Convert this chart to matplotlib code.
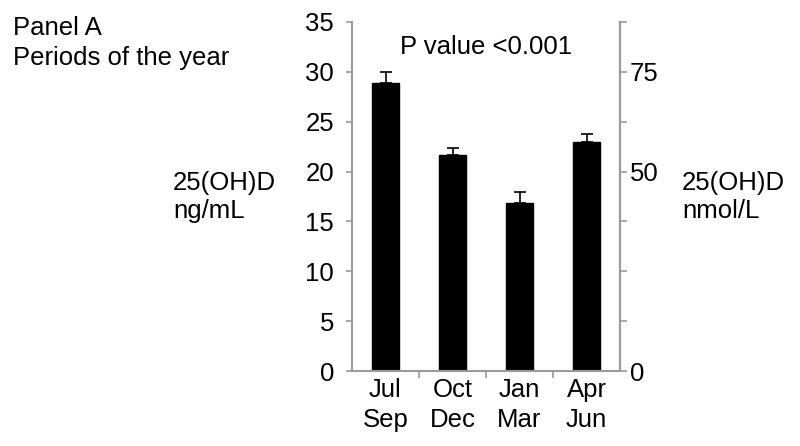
import matplotlib
matplotlib.use("Agg")
import matplotlib.pyplot as plt
from matplotlib.ticker import FixedLocator, NullFormatter

plt.rcParams['font.family'] = ['Liberation Sans', 'DejaVu Sans']

categories = ["Jul\nSep", "Oct\nDec", "Jan\nMar", "Apr\nJun"]
means = [28.9, 21.7, 16.85, 23.0]
errors = [1.1, 0.7, 1.1, 0.8]
left_ticks = [0, 5, 10, 15, 20, 25, 30, 35]
right_ticks = [0, 12.5, 25, 37.5, 50, 62.5, 75, 87.5]
right_labels = ["0", "", "", "", "50", "", "75", ""]
conv = 2.5

gray = "#9a9a9a"
fs = 18.5

fig = plt.figure(figsize=(8, 4.46), dpi=100)
ax = fig.add_axes([0.44, 0.168, 0.335, 0.783])
x = list(range(len(categories)))
ax.bar(x, means, width=0.41, color="black", edgecolor="black")
ax.errorbar(x, means, yerr=[[0]*len(errors), errors], fmt="none",
            ecolor="black", elinewidth=1.2, capsize=4, capthick=1.2)
ax.set_xlim(-0.5, 3.5)
ax.set_ylim(0, 35)
ax.set_yticks(left_ticks)
ax.tick_params(axis="y", labelsize=fs, colors=gray, labelcolor="black",
               length=4, width=1.2, pad=9)
ax.set_xticks(x)
ax.set_xticklabels(categories, fontsize=fs, linespacing=1.3)
ax.tick_params(axis="x", which="major", length=0, pad=5)
ax.xaxis.set_minor_locator(FixedLocator([0.5, 1.5, 2.5]))
ax.xaxis.set_minor_formatter(NullFormatter())
ax.tick_params(axis="x", which="minor", length=5, width=1.2, colors=gray)
for s in ["top"]:
    ax.spines[s].set_visible(False)
for s in ["left", "bottom", "right"]:
    ax.spines[s].set_color(gray)
    ax.spines[s].set_linewidth(1.5)

ax2 = ax.twinx()
ax2.set_ylim(0, 35 * conv)
ax2.set_yticks(right_ticks)
ax2.set_yticklabels(right_labels, fontsize=fs)
ax2.tick_params(axis="y", colors=gray, labelcolor="black", length=5,
                width=1.2, pad=2)
for s in ["top", "left", "bottom"]:
    ax2.spines[s].set_visible(False)
ax2.spines["right"].set_color(gray)
ax2.spines["right"].set_linewidth(1.5)

ax.text(0.5, 0.928, "P value <0.001", transform=ax.transAxes, ha="center",
        va="center", fontsize=fs)
fig.text(13/800, 1 - 43/446, "Panel A\nPeriods of the year", ha="left",
         va="center", fontsize=fs, linespacing=1.3)
fig.text(173/800, 1 - 197/446, "25(OH)D\nng/mL", ha="left", va="center",
         fontsize=fs, linespacing=1.25)
fig.text(682/800, 1 - 197/446, "25(OH)D\nnmol/L", ha="left", va="center",
         fontsize=fs, linespacing=1.25)

fig.savefig("out.png", dpi=100, facecolor="white")
